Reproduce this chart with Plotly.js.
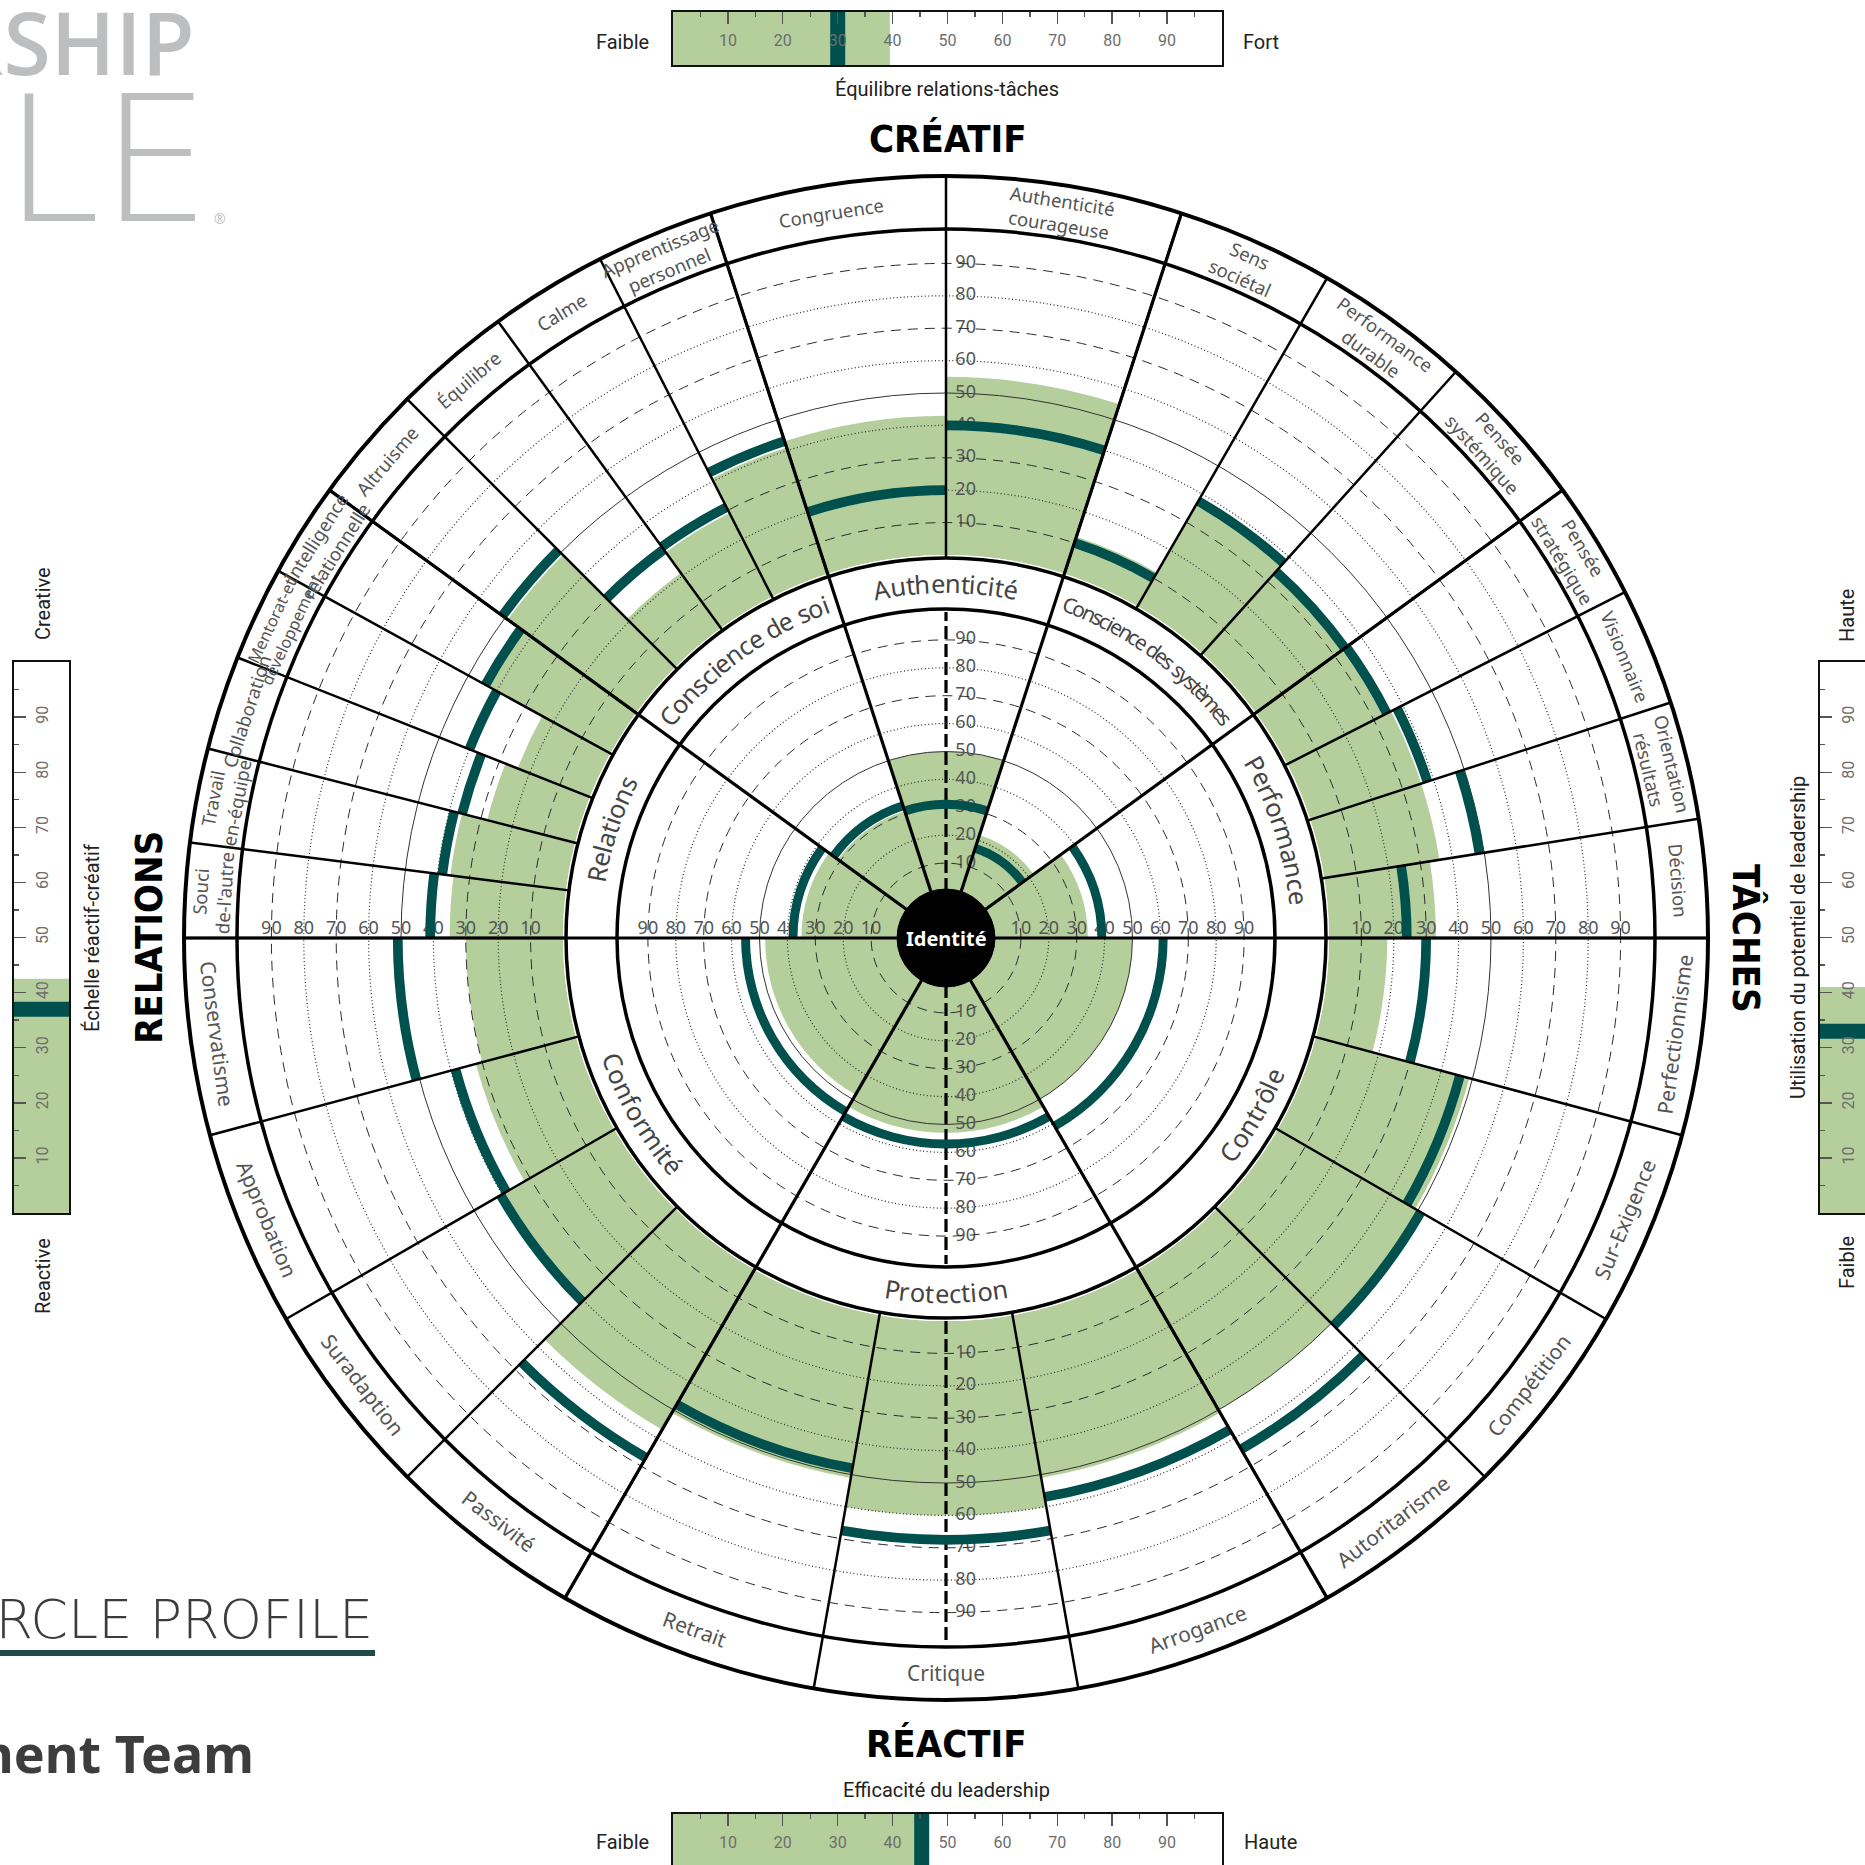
<!DOCTYPE html>
<html>
<head>
<meta charset="utf-8">
<script src="https://cdn.plot.ly/plotly-3.0.1.min.js"></script>
<style>
  body { margin: 0; background: #fff; }
  #chart { width: 1865px; height: 1865px; }
</style>
</head>
<body>
<div id="chart"></div>
<script>
// ---------- data ----------
// dimensions, counterclockwise from the right-hand horizontal
const creativeDims = ['Performance', 'Conscience des systèmes', 'Authenticité', 'Conscience de soi', 'Relations'];
const reactiveDims = ['Conformité', 'Protection', 'Contrôle'];
const dimScore = [34, 22, 50, 31, 35, 48, 53, 50];
const dimNorm  = [39, 17, 31, 33, 38, 55, 57, 61];

// competencies of each dimension, same order
const compNames = [
  ['Décision', 'Orientation<br>résultats', 'Visionnaire', 'Pensée<br>stratégique'],
  ['Pensée<br>systémique', 'Performance<br>durable', 'Sens<br>sociétal'],
  ['Authenticité<br>courageuse', 'Congruence'],
  ['Apprentissage<br>personnel', 'Calme', 'Équilibre', 'Altruisme'],
  ['Intelligence<br>relationnelle', 'Mentorat-et<br>développement', 'Collaboration', 'Travail<br>en-équipe', "Souci<br>de-l'autre"],
  ['Conservatisme', 'Approbation', 'Suradaption', 'Passivité'],
  ['Retrait', 'Critique', 'Arrogance'],
  ['Autoritarisme', 'Compétition', 'Sur-Exigence', 'Perfectionnisme']
];
const compScore = [33, 36, 36, 33,  33, 36, 12,  55, 43,  41, 29, 21, 49,  43, 24, 28, 36, 35,
                   30, 32, 39, 57,  51, 60, 51,  50, 50, 49, 18];
const compNorm  = [24, 48.5, 38, 34.5,  34, 37.5, 10,  40, 20,  43, 31, 30, 51,  44, 40, 36, 38.5, 41,
                   51, 38.5, 40.5, 67,  48, 67.5, 57,  64, 51, 46, 30];

const ringTicks = [10, 20, 30, 40, 50, 60, 70, 80, 90];

// summary scales: top, bottom, left, right
const summaryScore = [39.5, 44.3, 42.5, 41];
const summaryNorm  = [30, 45.3, 37, 33];
const barTicks = [10, 20, 30, 40, 50, 60, 70, 80, 90];
const barMinor = [5, 15, 25, 35, 45, 55, 65, 75, 85, 95];

// ---------- geometry ----------
const W = 1865, H = 1865, CX = 946, CY = 938;
const GREEN = '#b4cf9b', TEAL = '#00504e';
const px = x => x / W, py = y => 1 - y / H;
function polarPt(r, deg) {
  const a = deg * Math.PI / 180;
  return [px(CX + r * Math.cos(a)), py(CY - r * Math.sin(a))];
}
function domainFor(R) {
  return { x: [px(CX - R), px(CX + R)], y: [py(CY + R), py(CY - R)] };
}

const dims = creativeDims.concat(reactiveDims);
const dimStart = [], dimSpan = [];
creativeDims.forEach((d, i) => { dimStart.push(i * 180 / creativeDims.length); dimSpan.push(180 / creativeDims.length); });
reactiveDims.forEach((d, i) => { dimStart.push(180 + i * 180 / reactiveDims.length); dimSpan.push(180 / reactiveDims.length); });
const dimTheta = dimStart.map((s, i) => s + dimSpan[i] / 2);

const compTheta = [], compWidth = [], compLabel = [], compBounds = [];
compNames.forEach((list, d) => {
  const w = dimSpan[d] / list.length;
  list.forEach((n, k) => {
    compTheta.push(dimStart[d] + (k + 0.5) * w);
    compWidth.push(w);
    compLabel.push(n);
    compBounds.push(dimStart[d] + k * w);
  });
});

// radii in pixels
const R_OUT = 707, R_OUT0 = 383;   // outer band 0..100
const R_IN = 326, R_IN0 = 47;      // inner pie 0..100

function polarLayer(R, r0, radial, angular) {
  return {
    domain: domainFor(R),
    hole: r0 / R,
    bgcolor: 'rgba(0,0,0,0)',
    barmode: 'overlay',
    bargap: 0,
    radialaxis: Object.assign({ range: [0, 100], showline: false, showticklabels: false, ticks: '', showgrid: false }, radial || {}),
    angularaxis: Object.assign({ rotation: 0, direction: 'counterclockwise', showline: false, showticklabels: false, ticks: '', showgrid: false }, angular || {})
  };
}
const dashGrid = { showgrid: true, tickmode: 'array', gridcolor: '#2b2b2b', gridwidth: 1, griddash: '10px,7px' };
const dotGrid = { showgrid: true, tickmode: 'array', gridcolor: '#2b2b2b', gridwidth: 1.2, griddash: '1px,2.5px' };
const solidGrid = { showgrid: true, tickmode: 'array', tickvals: [50], gridcolor: '#333', gridwidth: 1 };
const vertDash = { showgrid: true, tickmode: 'array', gridcolor: '#000', gridwidth: 3.2, griddash: '13px,5px' };

const layout = {
  width: W, height: H,
  margin: { l: 0, r: 0, t: 0, b: 0 },
  paper_bgcolor: '#fff',
  showlegend: false,
  barmode: 'overlay',
  polar: polarLayer(R_OUT, R_OUT0),
  polar2: polarLayer(R_IN, R_IN0),
  polar3: polarLayer(R_OUT, R_OUT0, Object.assign({}, dotGrid, { tickvals: [20, 40, 60, 80] }), Object.assign({}, vertDash, { tickvals: [270] })),
  polar4: polarLayer(R_OUT, R_OUT0, solidGrid),
  polar5: polarLayer(R_IN, R_IN0, Object.assign({}, dotGrid, { tickvals: [20, 40, 60, 80] }), Object.assign({}, vertDash, { tickvals: [90, 270] })),
  polar6: polarLayer(R_IN, R_IN0, solidGrid),
  polar7: polarLayer(R_OUT, R_OUT0, Object.assign({}, dashGrid, { tickvals: [10, 30, 70, 90] })),
  polar8: polarLayer(R_IN, R_IN0, Object.assign({}, dashGrid, { tickvals: [10, 30, 70, 90] })),
  polar9: polarLayer(762, 380, { range: [0, 1] }, { showgrid: true, tickmode: 'array', tickvals: compBounds, gridcolor: '#000', gridwidth: 2.5 }),
  polar10: polarLayer(762, 49, { range: [0, 1] }, { showgrid: true, tickmode: 'array', tickvals: dimStart, gridcolor: '#000', gridwidth: 3.2 }),
  annotations: [],
  shapes: []
};

// ---------- polar traces ----------
const traces = [];
traces.push({ type: 'barpolar', subplot: 'polar', r: compScore, theta: compTheta, width: compWidth, base: 0,
  marker: { color: GREEN, line: { width: 0 } }, hoverinfo: 'skip' });
traces.push({ type: 'barpolar', subplot: 'polar2', r: dimScore, theta: dimTheta, width: dimSpan, base: 0,
  marker: { color: GREEN, line: { width: 0 } }, hoverinfo: 'skip' });

function tickText(sub, deg, pos) {
  const pad = pos === 'middle right' ? '\u00a0\u00a0' : '';
  return { type: 'scatterpolar', subplot: sub, mode: 'text', r: ringTicks, theta: ringTicks.map(() => deg),
    text: ringTicks.map(v => pad + v), textposition: pos, cliponaxis: false,
    textfont: { family: 'Noto Sans', size: 18, color: '#555' }, hoverinfo: 'skip' };
}
traces.push(tickText('polar3', 0, 'top center'), tickText('polar3', 180, 'top center'));
traces.push(tickText('polar4', 90, 'middle right'), tickText('polar4', 270, 'middle right'));
traces.push(tickText('polar5', 0, 'top center'), tickText('polar5', 180, 'top center'));
traces.push(tickText('polar6', 90, 'middle right'), tickText('polar6', 270, 'middle right'));

traces.push({ type: 'barpolar', subplot: 'polar7', r: compNorm.map(() => 3), base: compNorm.map(v => v - 1.5),
  theta: compTheta, width: compWidth, marker: { color: TEAL, line: { width: 0 } }, hoverinfo: 'skip' });
traces.push({ type: 'barpolar', subplot: 'polar8', r: dimNorm.map(() => 3.2), base: dimNorm.map(v => v - 1.6),
  theta: dimTheta, width: dimSpan, marker: { color: TEAL, line: { width: 0 } }, hoverinfo: 'skip' });
['polar9', 'polar10'].forEach(s => traces.push({ type: 'scatterpolar', subplot: s, mode: 'markers', r: [0], theta: [0],
  marker: { size: 1, opacity: 0 }, hoverinfo: 'skip' }));

// frame circles
[[762, 4], [709, 3.5], [380, 3.5], [329, 3.5]].forEach(([r, w]) => {
  layout.shapes.push({ type: 'circle', xref: 'paper', yref: 'paper', x0: px(CX - r), x1: px(CX + r),
    y0: py(CY + r), y1: py(CY - r), line: { color: '#000', width: w } });
});
layout.shapes.push({ type: 'circle', xref: 'paper', yref: 'paper', x0: px(CX - 49), x1: px(CX + 49),
  y0: py(CY + 49), y1: py(CY - 49), fillcolor: '#000', line: { color: '#000', width: 1 } });

// ---------- ring labels ----------
const ann = layout.annotations;
function note(x, y, text, size, opts) {
  ann.push(Object.assign({ xref: 'paper', yref: 'paper', x: x, y: y, text: text, showarrow: false,
    xanchor: 'center', yanchor: 'middle', font: { family: 'Noto Sans', size: size, color: '#222' } }, opts || {}));
}

const ctx = document.createElement('canvas').getContext('2d');
function textWidth(t, size) {
  ctx.font = size + 'px "Noto Sans"';
  return Math.max.apply(null, t.split('<br>').map(s => ctx.measureText(s).width));
}

compLabel.forEach((t, i) => {
  const phi = compTheta[i];
  const top = phi < 180;
  const base = top ? 18.5 : 21;
  const [x, y] = polarPt(735, phi);
  const arc = compWidth[i] * Math.PI / 180 * 735;
  const size = Math.min(base, base * 1.3 * arc / textWidth(t, base));
  note(x, y, t, size, { textangle: top ? 90 - phi : 270 - phi,
    font: { family: 'Noto Sans', size: size, color: '#555' } });
});

// dimension names set along their arc, one glyph at a time
function curvedText(txt, phi0, r, size0, span) {
  const avail = span * Math.PI / 180 * r;
  ctx.font = size0 + 'px "Noto Sans"';
  const full0 = ctx.measureText(txt).width;
  const size = full0 > avail ? size0 * Math.sqrt(avail / full0) : size0;
  ctx.font = size + 'px "Noto Sans"';
  const chars = Array.from(txt);
  const widths = chars.map(c => ctx.measureText(c).width);
  const sum = widths.reduce((a, b) => a + b, 0);
  const full = ctx.measureText(txt).width;
  let k = full / sum;
  if (full > avail) k *= avail / full;
  const top = phi0 > 0 && phi0 < 180;
  let acc = 0;
  chars.forEach((c, i) => {
    const s = (acc + widths[i] / 2 - sum / 2) * k;
    acc += widths[i];
    if (c === ' ') return;
    const phi = top ? phi0 - s / r * 180 / Math.PI : phi0 + s / r * 180 / Math.PI;
    const [x, y] = polarPt(r, phi);
    note(x, y, c, size, { textangle: top ? 90 - phi : 270 - phi,
      font: { family: 'Noto Sans', size: size, color: '#444' } });
  });
}
dims.forEach((d, i) => curvedText(d, dimTheta[i], 355, 25.5, dimSpan[i] * 0.92));

note(px(CX), py(CY), 'Identité', 20, { font: { family: 'Noto Sans', size: 20, color: '#fff', weight: 700 } });

// ---------- headings ----------
const head = { family: 'DejaVu Sans Condensed', size: 38, color: '#000', weight: 700 };
note(px(948), py(139), 'CRÉATIF', 38, { font: head });
note(px(947), py(1744), 'RÉACTIF', 38, { font: head });
note(px(149), py(938), 'RELATIONS', 38, { font: head, textangle: -90 });
note(px(1746), py(938), 'TÂCHES', 38, { font: head, textangle: 90 });

// ---------- summary bars ----------
const lab = { family: 'Roboto', size: 20, color: '#222' };
note(px(622), py(42), 'Faible', 20, { font: lab });
note(px(1261), py(42), 'Fort', 20, { font: lab });
note(px(947), py(89), 'Équilibre relations-tâches', 20, { font: lab });
note(px(947), py(1790), 'Efficacité du leadership', 20, { font: lab });
note(px(622), py(1842), 'Faible', 20, { font: lab });
note(px(1270), py(1842), 'Haute', 20, { font: lab });
note(px(43), py(604), 'Creative', 20, { font: lab, textangle: -90 });
note(px(43), py(1276), 'Reactive', 20, { font: lab, textangle: -90 });
note(px(92), py(938), 'Échelle réactif-créatif', 20, { font: lab, textangle: -90 });
note(px(1847), py(616), 'Haute', 20, { font: lab, textangle: -90 });
note(px(1847), py(1263), 'Faible', 20, { font: lab, textangle: -90 });
note(px(1798), py(938), 'Utilisation du potentiel de leadership', 20, { font: lab, textangle: -90 });

const scaleFont = { family: 'Roboto', size: 16, color: '#6d6d6d' };
function scaleAxis(extra) {
  return Object.assign({ range: [0, 100], showline: true, linecolor: '#111', linewidth: 2, ticks: 'inside',
    tickmode: 'array', tickvals: barTicks, ticklen: 12, tickwidth: 1.4, tickcolor: '#555',
    ticklabelposition: 'inside', ticklabelstandoff: 11, tickfont: scaleFont, showgrid: false, zeroline: false, fixedrange: true,
    minor: { ticks: 'inside', tickmode: 'array', tickvals: barMinor, ticklen: 5, tickwidth: 1.4, tickcolor: '#555', showgrid: false } }, extra);
}
function crossAxis(extra) {
  return Object.assign({ showline: true, linecolor: '#111', linewidth: 2, showticklabels: false, ticks: '',
    showgrid: false, zeroline: false, fixedrange: true }, extra);
}
layout.xaxis = scaleAxis({ domain: [px(673), px(1222)], anchor: 'y', side: 'top', mirror: true });
layout.yaxis = crossAxis({ domain: [py(65), py(12)], anchor: 'x', range: [-0.5, 0.5], mirror: true });
layout.xaxis2 = scaleAxis({ domain: [px(673), px(1222)], anchor: 'y2', side: 'top' });
layout.yaxis2 = crossAxis({ domain: [0, py(1814)], anchor: 'x2', range: [-0.46, 0.5], mirror: true });
layout.yaxis3 = scaleAxis({ domain: [py(1213), py(662)], anchor: 'x3', side: 'left', mirror: true, tickangle: -90, ticklabelstandoff: 3 });
layout.xaxis3 = crossAxis({ domain: [px(14), px(69)], anchor: 'y3', range: [-0.5, 0.5], mirror: true });
layout.yaxis4 = scaleAxis({ domain: [py(1213), py(662)], anchor: 'x4', side: 'left', tickangle: -90, ticklabelstandoff: 3 });
layout.xaxis4 = crossAxis({ domain: [px(1820), 1], anchor: 'y4', range: [-0.5, 0.32], mirror: true });

const axisPairs = [['x', 'y', 'h'], ['x2', 'y2', 'h'], ['x3', 'y3', 'v'], ['x4', 'y4', 'v']];
axisPairs.forEach(([xa, ya, o], i) => {
  const v = summaryScore[i], n = summaryNorm[i];
  traces.push({ type: 'bar', orientation: o, xaxis: xa, yaxis: ya, width: [1],
    x: o === 'h' ? [v] : [0], y: o === 'h' ? [0] : [v], marker: { color: GREEN, line: { width: 0 } }, hoverinfo: 'skip' });
  traces.push({ type: 'scatter', mode: 'lines', xaxis: xa, yaxis: ya, cliponaxis: false,
    x: o === 'h' ? [n, n] : [-0.6, 0.6], y: o === 'h' ? [-0.56, 0.56] : [n, n],
    line: { color: TEAL, width: 15 }, hoverinfo: 'skip' });
});

// ---------- brand texts (cropped at the page edge) ----------
note(px(197), py(42), 'LEADERSHIP', 86, { xanchor: 'right', font: { family: 'Open Sans', size: 86, color: '#bcbec0', weight: 600 } });
note(px(212), py(160), 'CIRCLE', 174, { xanchor: 'right', font: { family: 'DejaVu Sans', size: 174, color: '#bcbec0', weight: 200 } });
note(px(220), py(218), '®', 14, { font: { family: 'Open Sans', size: 14, color: '#bcbec0' } });
note(px(375), py(1619), 'LEADERSHIP CIRCLE PROFILE', 54, { xanchor: 'right', font: { family: 'DejaVu Sans', size: 54, color: '#3c3c3c', weight: 200 } });
note(px(256), py(1752), 'Management Team', 52, { xanchor: 'right', font: { family: 'Noto Sans', size: 52, color: '#3d3d3d', weight: 700 } });
layout.shapes.push({ type: 'line', xref: 'paper', yref: 'paper', x0: 0, x1: px(375), y0: py(1653), y1: py(1653),
  line: { color: '#1f4a48', width: 6 } });

Plotly.newPlot('chart', traces, layout, { staticPlot: true, displayModeBar: false });
</script>
</body>
</html>
